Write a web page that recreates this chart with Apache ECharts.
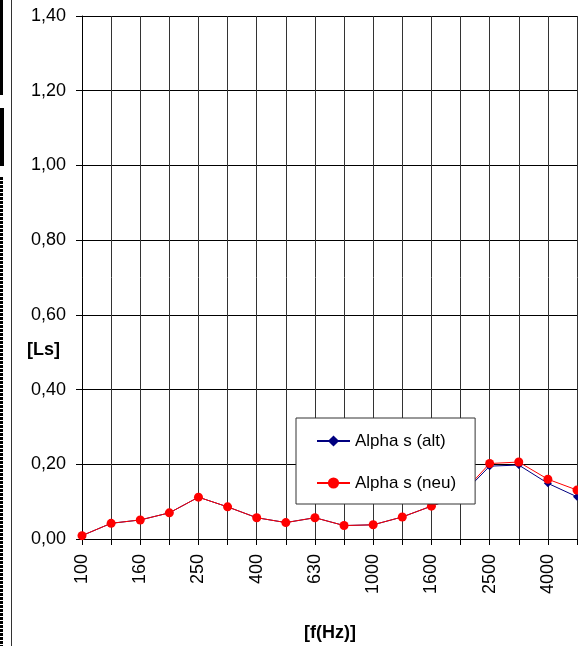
<!DOCTYPE html>
<html>
<head>
<meta charset="utf-8">
<script src="https://cdn.jsdelivr.net/npm/echarts@6/dist/echarts.min.js"></script>
<style>
	html, body { margin: 0; padding: 0; background: #fff; }
	#chart { width: 578px; height: 646px; }
</style>
</head>
<body>
<div id="chart"></div>
<script>
var frequencies = ["100", "125", "160", "200", "250", "315", "400", "500", "630", "800", "1000", "1250", "1600", "2000", "2500", "3150", "4000", "5000"];
var alphaAlt = [0.009, 0.042, 0.051, 0.070, 0.112, 0.086, 0.057, 0.044, 0.057, 0.036, 0.038, 0.059, 0.088, 0.115, 0.195, 0.198, 0.149, 0.113];
var alphaNeu = [0.009, 0.042, 0.051, 0.070, 0.112, 0.086, 0.057, 0.044, 0.057, 0.036, 0.038, 0.059, 0.088, 0.118, 0.202, 0.206, 0.160, 0.131];
var yTicks = { min: 0, max: 1.4, interval: 0.2 };

var font = "Liberation Sans, Arial, sans-serif";
var chart = echarts.init(document.getElementById("chart"));

chart.setOption({
	animation: false,
	backgroundColor: "#fff",
	textStyle: { fontFamily: font, color: "#000" },
	grid: { left: 82, right: 1, top: 16, bottom: 107, outerBoundsMode: "none" },
	legend: {
		orient: "vertical",
		left: 296,
		top: 418,
		padding: [13, 19, 11, 20],
		itemGap: 22,
		itemWidth: 33,
		itemHeight: 14,
		backgroundColor: "#fff",
		borderColor: "#333",
		borderWidth: 1,
		borderRadius: 0,
		textStyle: { fontFamily: font, fontSize: 17, color: "#000", lineHeight: 20 },
		data: ["Alpha s (alt)", "Alpha s (neu)"]
	},
	xAxis: {
		type: "category",
		data: frequencies,
		boundaryGap: false,
		axisLine: { lineStyle: { color: "#000", width: 1 } },
		axisTick: { show: true, interval: 0, length: 6, lineStyle: { color: "#000" } },
		axisLabel: {
			interval: 1,
			rotate: 90,
			margin: 15,
			fontSize: 18,
			fontFamily: font,
			color: "#000"
		},
		splitLine: { show: true, interval: 0, lineStyle: { color: "#333", width: 1 } }
	},
	yAxis: {
		type: "value",
		min: yTicks.min,
		max: yTicks.max,
		interval: yTicks.interval,
		axisLine: { show: true, lineStyle: { color: "#000", width: 1 } },
		axisTick: { show: true, length: 6, lineStyle: { color: "#000" } },
		axisLabel: {
			margin: 16,
			fontSize: 18,
			fontFamily: font,
			color: "#000",
			formatter: function (v) { return v.toFixed(2).replace(".", ","); }
		},
		splitLine: { show: true, lineStyle: { color: "#000", width: 1 } }
	},
	series: [
		{
			name: "Alpha s (alt)",
			type: "line",
			data: alphaAlt,
			symbol: "diamond",
			symbolSize: 8,
			color: "#000080",
			lineStyle: { color: "#000080", width: 1 },
			itemStyle: { color: "#000080" }
		},
		{
			name: "Alpha s (neu)",
			type: "line",
			data: alphaNeu,
			symbol: "circle",
			symbolSize: 9,
			color: "#ff0000",
			lineStyle: { color: "#ff0000", width: 1 },
			itemStyle: { color: "#ff0000" }
		}
	],
	graphic: [
		{ type: "text", left: 27, top: 341, style: { text: "[Ls]", font: "bold 18px " + font, fill: "#000" } },
		{ type: "text", left: 304, top: 624, style: { text: "[f(Hz)]", font: "bold 18px " + font, fill: "#000" } },
		// bits of neighbouring objects cut off at the left edge
		{ type: "line", shape: { x1: 11.5, y1: 0, x2: 11.5, y2: 646 }, style: { stroke: "#333", lineWidth: 1 } },
		{ type: "rect", shape: { x: 0, y: 0, width: 3, height: 95 }, style: { fill: "#000" } },
		{ type: "rect", shape: { x: 1, y: 109, width: 2, height: 56 }, style: { fill: "none", stroke: "#000", lineWidth: 2 } },
		{ type: "line", shape: { x1: 1.5, y1: 177, x2: 1.5, y2: 646 }, style: { stroke: "#000", lineWidth: 3, lineDash: [3, 1] } }
	]
});
</script>
</body>
</html>
